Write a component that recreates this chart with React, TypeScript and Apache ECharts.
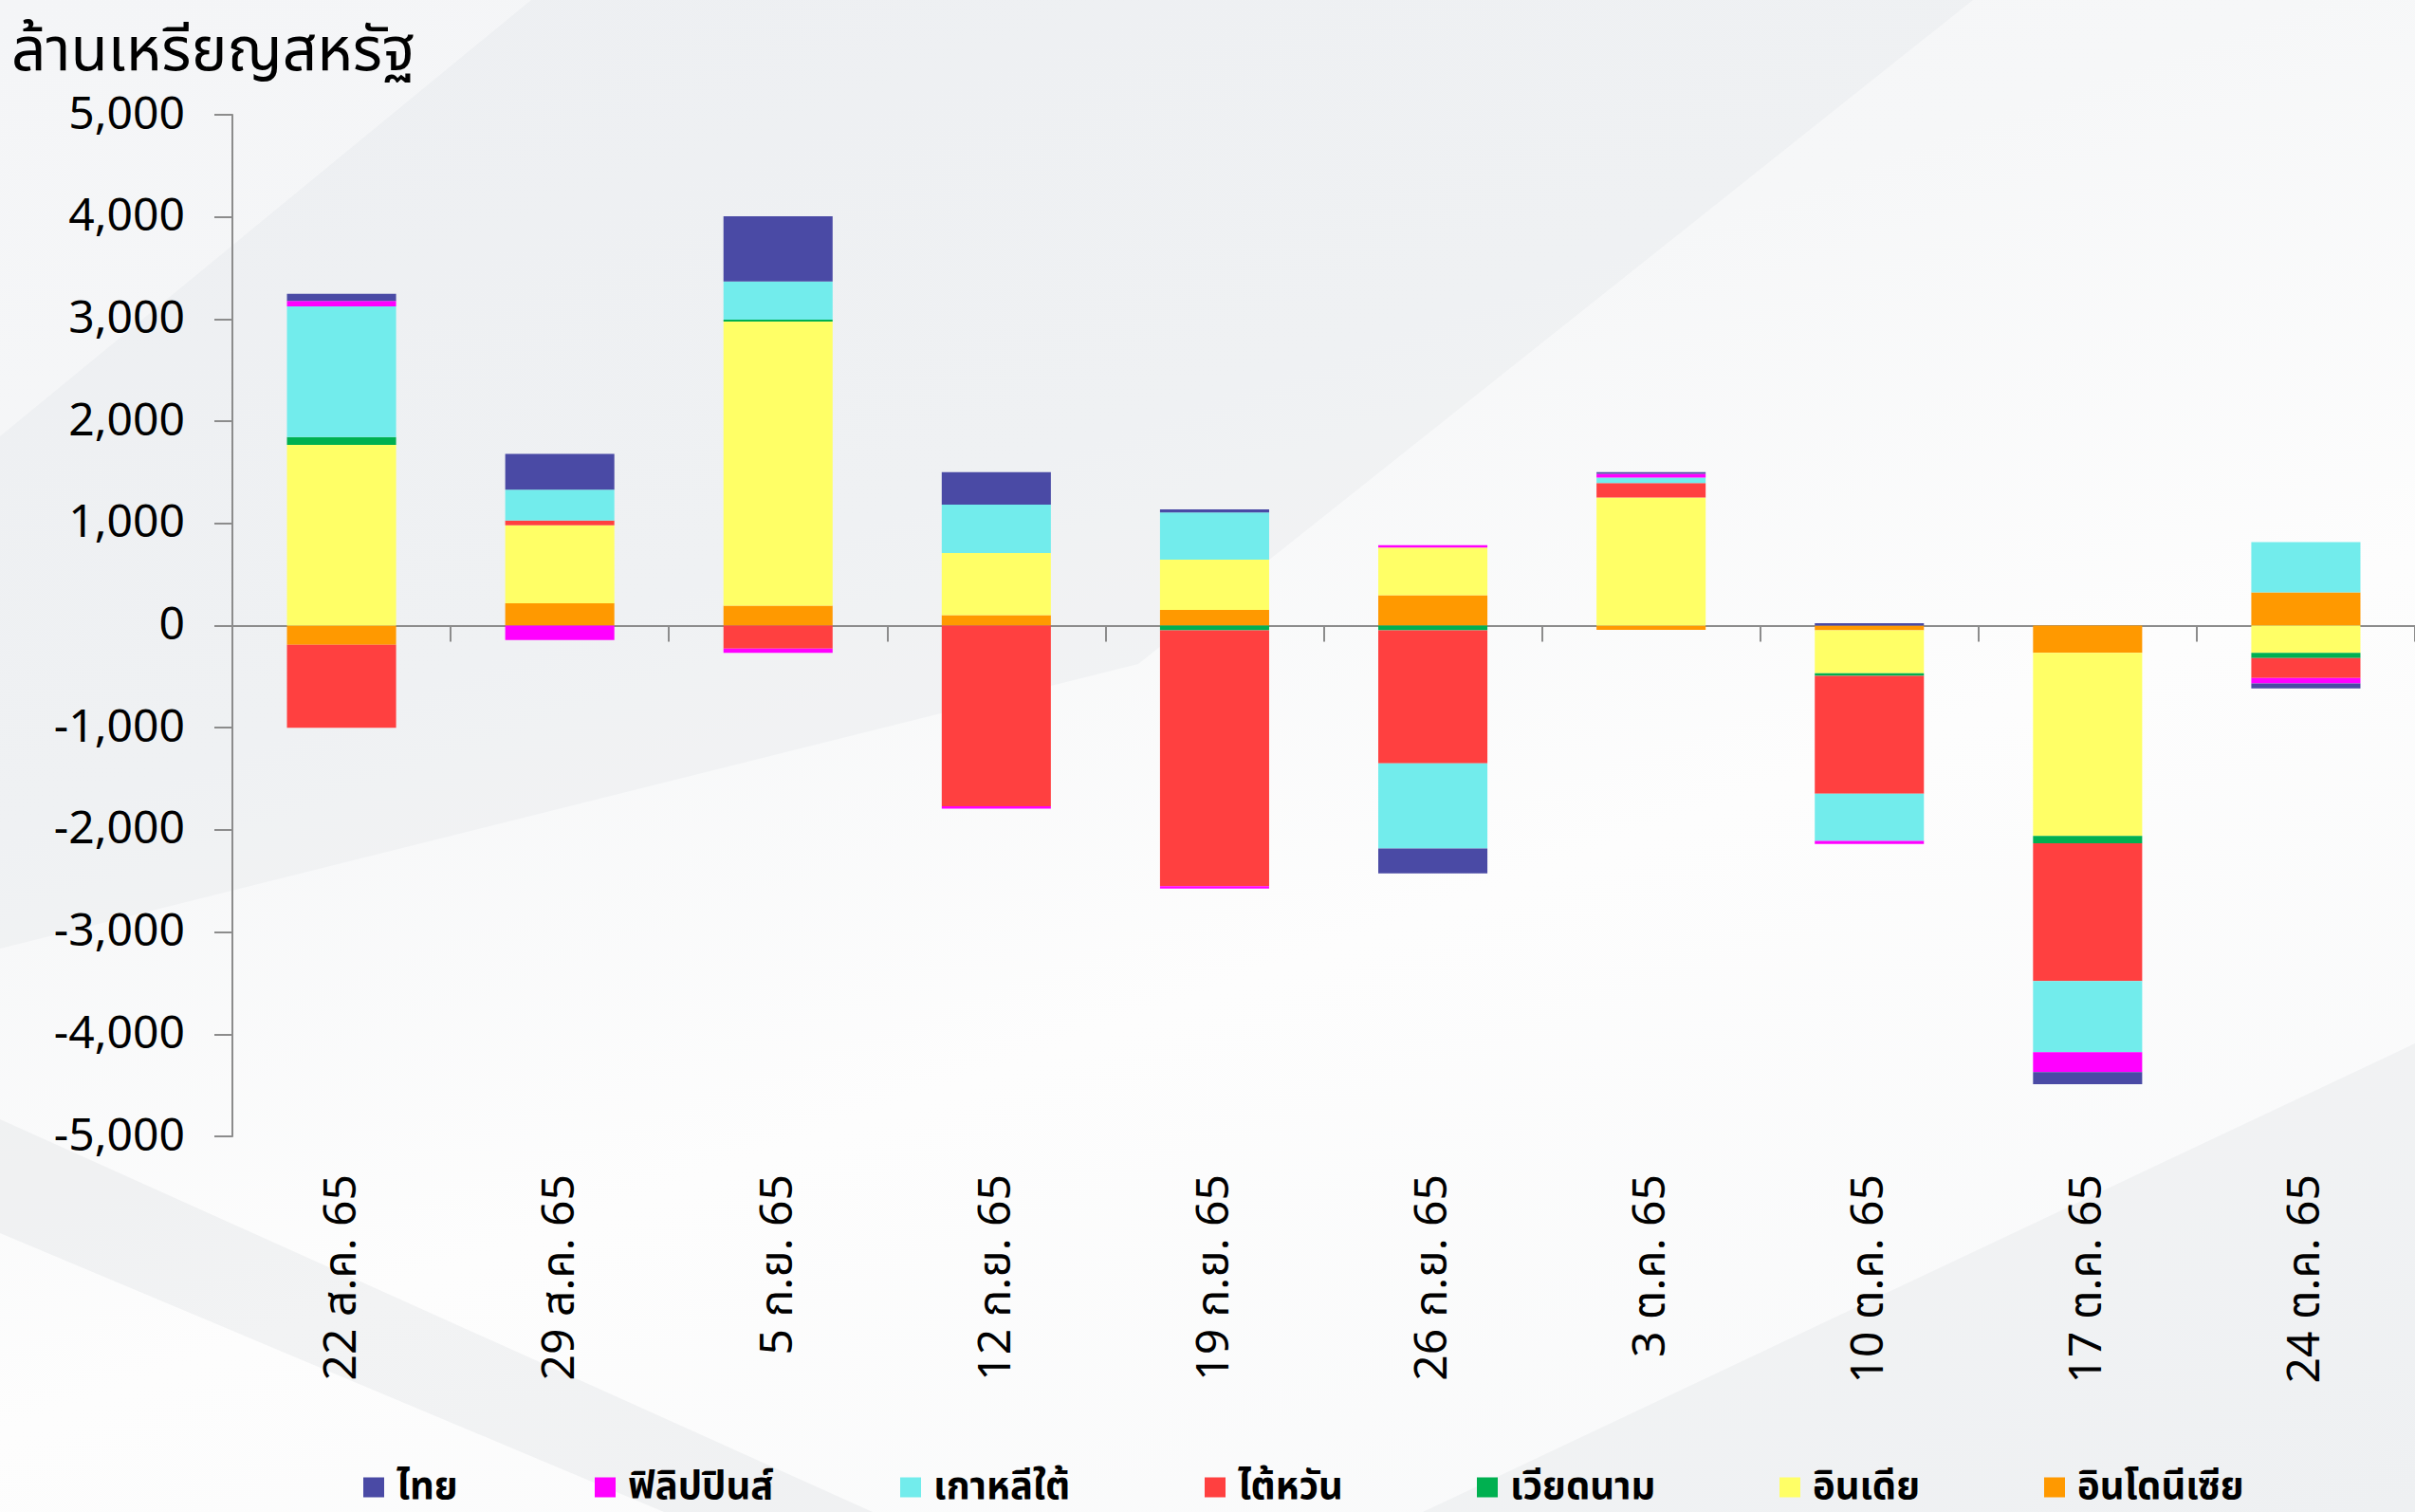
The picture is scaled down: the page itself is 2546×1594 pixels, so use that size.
import React, { useEffect, useRef } from "react";
import * as echarts from "echarts";

const categories = ["22 ส.ค. 65", "29 ส.ค. 65", "5 ก.ย. 65", "12 ก.ย. 65", "19 ก.ย. 65", "26 ก.ย. 65", "3 ต.ค. 65", "10 ต.ค. 65", "17 ต.ค. 65", "24 ต.ค. 65"];

const thailand = [71, 349, 639, 320, 30, -243, 18, 24, -118, -47];
const philippines = [53, -142, -41, -24, -24, 24, 36, -30, -195, -53];
const southKorea = [1278, 302, 373, 473, 462, -834, 53, -462, -698, 491];
const taiwan = [-811, 47, -225, -1769, -2503, -1302, 142, -1154, -1349, -195];
const vietnam = [77, 0, 18, 0, -47, -47, 0, -24, -71, -53];
const india = [1769, 763, 2781, 609, 491, 467, 1254, -420, -1793, -266];
const indonesia = [-189, 219, 195, 101, 154, 296, -41, -47, -266, 325];

const yTicks = { min: -5000, max: 5000, interval: 1000 };

const FONT = "Tahoma, 'Noto Sans Thai', 'Noto Sans', 'DejaVu Sans', sans-serif";

const seriesDefs = [
  { name: "อินโดนีเซีย", data: indonesia, color: "#ff9900" },
  { name: "อินเดีย", data: india, color: "#ffff66" },
  { name: "เวียดนาม", data: vietnam, color: "#00b050" },
  { name: "ไต้หวัน", data: taiwan, color: "#ff4040" },
  { name: "เกาหลีใต้", data: southKorea, color: "#72ecec" },
  { name: "ฟิลิปปินส์", data: philippines, color: "#ff00ff" },
  { name: "ไทย", data: thailand, color: "#4a4aa5" },
];

const legendOrder = ["ไทย", "ฟิลิปปินส์", "เกาหลีใต้", "ไต้หวัน", "เวียดนาม", "อินเดีย", "อินโดนีเซีย"];
const legendLeft = [383, 627, 949, 1270, 1557, 1876, 2155];

export default function App() {
  const ref = useRef<HTMLDivElement>(null);
  useEffect(() => {
    if (!ref.current) return;
    const chart = echarts.init(ref.current, undefined, { renderer: "svg" });
    const axisColor = "#8c8c8c";
    chart.setOption({
      animation: false,
      backgroundColor: "transparent",
      textStyle: { fontFamily: FONT },
      title: {
        text: "ล้านเหรียญสหรัฐ",
        left: 12,
        top: 20,
        padding: 0,
        textStyle: { fontSize: 64, lineHeight: 68, fontWeight: "normal", color: "#000", fontFamily: FONT },
      },
      graphic: [
        { type: "polygon", silent: true, z: -10, shape: { points: [[560, 0], [2080, 0], [1200, 700], [0, 1000], [0, 460]] }, style: { fill: "rgba(200,205,212,0.14)" } },
        { type: "polygon", silent: true, z: -10, shape: { points: [[0, 1300], [700, 1594], [920, 1594], [0, 1180]] }, style: { fill: "rgba(200,205,212,0.2)" } },
        { type: "polygon", silent: true, z: -10, shape: { points: [[1500, 1594], [2546, 1100], [2546, 1594]] }, style: { fill: "rgba(200,205,212,0.18)" } },
      ],
      legend: legendOrder.map((name, i) => ({
        data: [name],
        left: legendLeft[i],
        top: 1546,
        icon: "rect",
        itemWidth: 22,
        itemHeight: 21,
        itemGap: 0,
        padding: 0,
        textStyle: { fontSize: 40, lineHeight: 44, fontWeight: "bold", color: "#000", fontFamily: FONT, padding: [0, 0, 0, 8] },
      })),
      grid: { left: 245, top: 121, width: 2312, height: 1077, containLabel: false },
      xAxis: [
        {
          type: "category",
          data: categories,
          position: "bottom",
          axisLine: { show: true, onZero: true, lineStyle: { color: axisColor, width: 2 } },
          axisTick: { show: true, length: 17, lineStyle: { color: axisColor, width: 2 } },
          axisLabel: { show: false },
          splitLine: { show: false },
        },
        {
          type: "category",
          data: categories,
          position: "bottom",
          axisLine: { show: false, onZero: false },
          axisTick: { show: false },
          axisLabel: { show: true, interval: 0, rotate: 90, margin: 40, fontSize: 48, color: "#000", fontFamily: FONT },
          splitLine: { show: false },
        },
      ],
      yAxis: {
        type: "value",
        min: yTicks.min,
        max: yTicks.max,
        interval: yTicks.interval,
        axisLine: { show: true, lineStyle: { color: axisColor, width: 2 } },
        axisTick: { show: true, length: 19, lineStyle: { color: axisColor, width: 2 } },
        splitLine: { show: false },
        axisLabel: {
          fontSize: 48,
          margin: 50,
          color: "#000",
          fontFamily: FONT,
          formatter: (v: number) => v.toLocaleString("en-US"),
        },
      },
      series: seriesDefs.map((s) => ({
        name: s.name,
        type: "bar",
        stack: "total",
        xAxisIndex: 0,
        barWidth: "50%",
        data: s.data,
        itemStyle: { color: s.color },
      })),
    });
    return () => chart.dispose();
  }, []);
  return (
    <div
      ref={ref}
      style={{
        position: "fixed",
        left: 0,
        top: 0,
        width: "2546px",
        height: "1594px",
        background: "linear-gradient(160deg, #f4f5f7 0%, #f6f7f8 35%, #fdfdfd 60%, #f7f8f9 100%)",
      }}
    />
  );
}
